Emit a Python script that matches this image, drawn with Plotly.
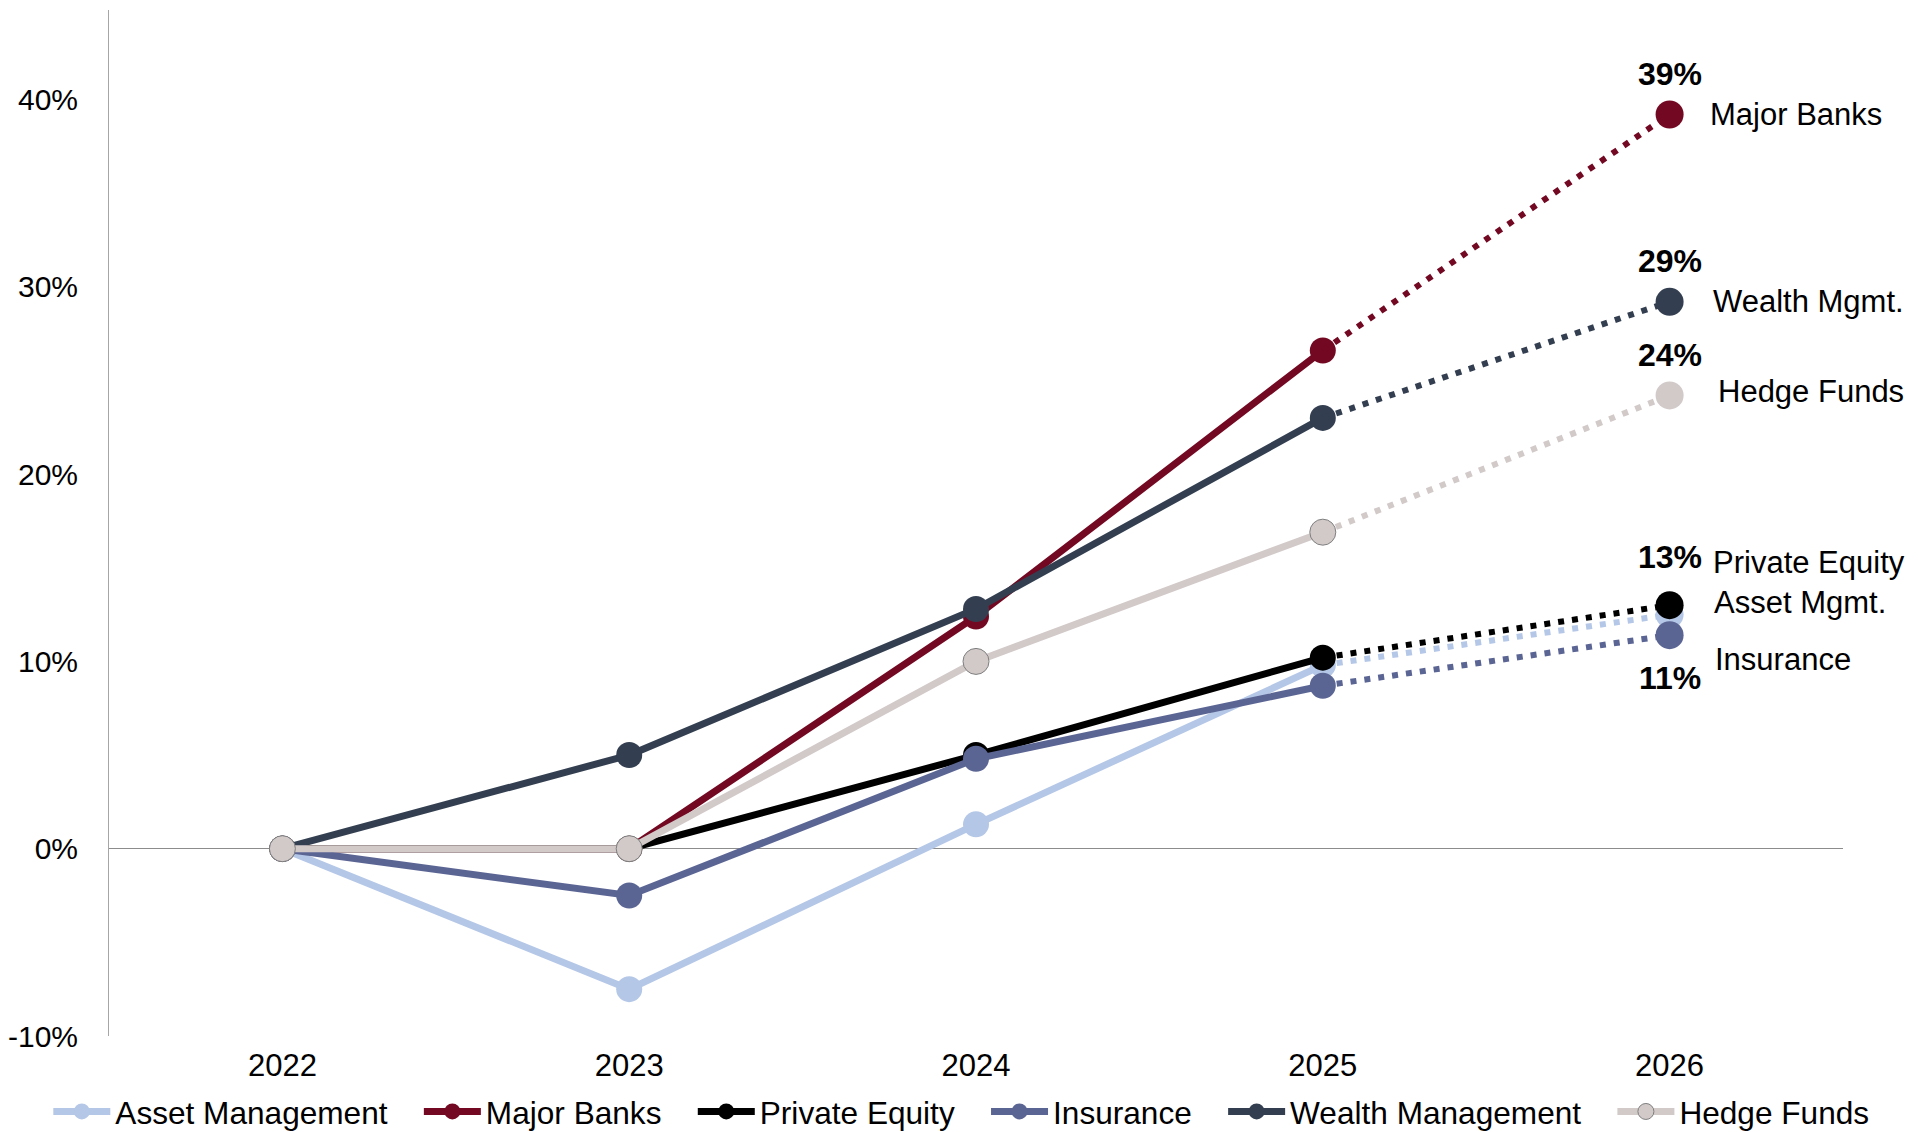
import plotly.graph_objects as go

# ---------------- data ----------------
years = ["2022", "2023", "2024", "2025", "2026"]
asset_management = [0, -7.5, 1.3, 9.8, 12.5]
major_banks = [0, 0, 12.4, 26.6, 39.2]
private_equity = [0, 0, 5.0, 10.2, 13.0]
insurance = [0, -2.5, 4.8, 8.7, 11.4]
wealth_management = [0, 5.0, 12.8, 23.0, 29.2]
hedge_funds = [0, 0, 10.0, 16.9, 24.2]

series_names = ["Asset Management", "Major Banks", "Private Equity",
                "Insurance", "Wealth Management", "Hedge Funds"]
end_labels = ["Asset Mgmt.", "Major Banks", "Private Equity",
              "Insurance", "Wealth Mgmt.", "Hedge Funds"]
show_pct = [False, True, True, True, True, True]
y_tick_values = [-10, 0, 10, 20, 30, 40]
y_tick_labels = ["-10%", "0%", "10%", "20%", "30%", "40%"]

series_values = [asset_management, major_banks, private_equity,
                 insurance, wealth_management, hedge_funds]

# ---------------- styles ----------------
colors = ["#B4C7E7", "#730822", "#000000", "#5B6594", "#333F50", "#D2C9C9"]
# (name label xshift, name label yshift, pct label yshift)
label_offsets = [
    (42, 12, 0),
    (38, 0, 41),
    (41, 43, 48),
    (43, -24, -43),
    (41, 0, 41),
    (46, 4, 40),
]
FONT = "Liberation Sans, Arial, sans-serif"
LINE_W = 7
MARKER_SIZE = 26
END_MARKER_SIZE = 28
LEGEND_PAD = "\u00a0\u00a0\u00a0"

last = len(years) - 1
fig = go.Figure()

for i, (name, vals, col) in enumerate(zip(series_names, series_values, colors)):
    mline = dict(width=1, color="#7F7F7F") if name == "Hedge Funds" else dict(width=0)
    pad = LEGEND_PAD if i < len(series_names) - 1 else ""
    # actual (solid) portion 2022-2025
    fig.add_trace(go.Scatter(
        x=years[:4], y=vals[:4], name=name + pad, legendgroup=name,
        mode="lines+markers",
        line=dict(color=col, width=LINE_W),
        marker=dict(color=col, size=MARKER_SIZE, line=mline, opacity=1),
        showlegend=True, cliponaxis=False,
    ))
    # forecast (dotted) portion 2025-2026
    fig.add_trace(go.Scatter(
        x=years[3:], y=vals[3:], name=name, legendgroup=name,
        mode="lines+markers",
        line=dict(color=col, width=LINE_W - 1, dash="6px,8px"),
        marker=dict(color=col, size=[0, END_MARKER_SIZE], line=dict(width=0), opacity=1),
        showlegend=False, cliponaxis=False,
    ))

# end labels
for i, (vals, lab) in enumerate(zip(series_values, end_labels)):
    xs, ys, ps = label_offsets[i]
    fig.add_annotation(
        xref="x", yref="y", x=last, y=vals[-1], text=lab, showarrow=False,
        xanchor="left", yanchor="middle", xshift=xs, yshift=ys,
        font=dict(family=FONT, size=31, color="#000000"),
    )
    if show_pct[i]:
        fig.add_annotation(
            xref="x", yref="y", x=last, y=vals[-1],
            text="<b>" + str(round(vals[-1])) + "%</b>",
            showarrow=False, xanchor="center", yanchor="middle", yshift=ps,
            font=dict(family=FONT, size=32, color="#000000"),
        )

fig.update_layout(
    width=1929, height=1132,
    margin=dict(l=109, r=86, t=10, b=96, autoexpand=False),
    paper_bgcolor="white", plot_bgcolor="white",
    font=dict(family=FONT, size=29, color="#000000"),
    showlegend=True,
    legend=dict(
        orientation="h", x=-0.035, xanchor="left",
        y=-0.074, yanchor="middle",
        font=dict(family=FONT, size=31.6, color="#000000"),
        itemwidth=57, tracegroupgap=0, bgcolor="rgba(0,0,0,0)",
    ),
    xaxis=dict(
        type="category", showgrid=False, zeroline=False, showline=False,
        ticks="", tickfont=dict(family=FONT, size=31, color="#000000"),
        range=[-0.5, 4.5], ticklabelstandoff=8,
    ),
    yaxis=dict(
        range=[-10, 44.78], showgrid=False,
        zeroline=True, zerolinecolor="#8C8C8C", zerolinewidth=1,
        showline=True, linecolor="#A6A6A6", linewidth=1,
        ticks="", tickvals=y_tick_values, ticktext=y_tick_labels,
        tickfont=dict(family=FONT, size=30, color="#000000"),
        ticklabelstandoff=24,
    ),
)

fig.write_html("out.html")
